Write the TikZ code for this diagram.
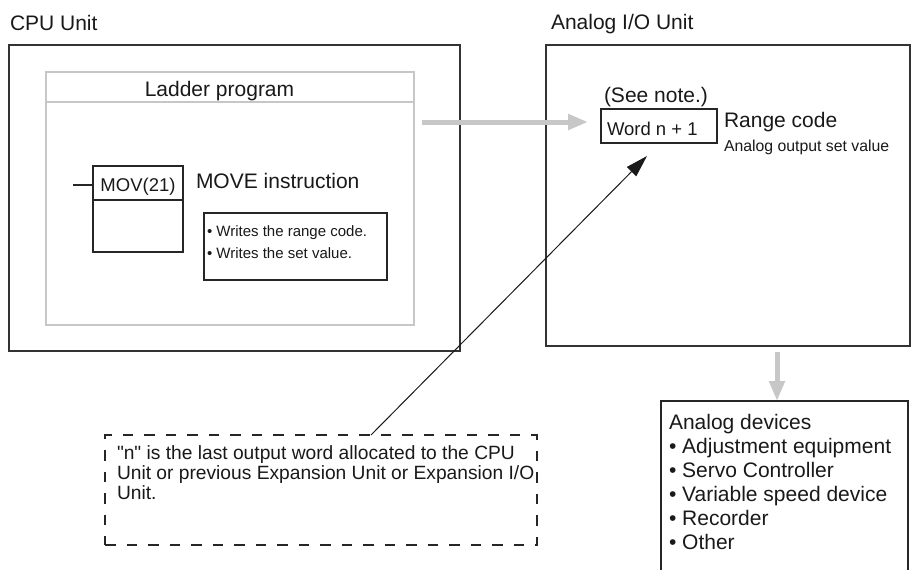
\documentclass[tikz,border=0pt]{standalone}
\usepackage{fontspec}
\setmainfont{Liberation Sans}[Ligatures=TeXOff]
\usetikzlibrary{arrows.meta}

\begin{document}
\begin{tikzpicture}[x=1pt, y=-1pt,
    every node/.style={inner sep=0pt, outer sep=0pt, text=black!90},
    unitat/.style={draw=black!80, line width=1.3pt, anchor=north west},
    marc/.style={draw=black!22, line width=2.6pt},
    caixa/.style={draw=black!85, line width=1.1pt, anchor=north west},
    gran/.style={anchor=base west, font=\fontsize{21}{24}\selectfont},
    mitja/.style={anchor=base west, font=\fontsize{18.5}{21}\selectfont},
    petit/.style={anchor=base west, font=\fontsize{15}{18}\selectfont},
    fletxa/.style={draw=black!22, line width=5pt,
        -{Triangle[length=20pt, width=15pt]}},
    nota/.style={draw=black!85, line width=2.2pt,
        dash pattern=on 10.5pt off 11pt, anchor=north west}
    ]
    \useasboundingbox (0,0) rectangle (913,570);

    % CPU Unit
    \node[gran] (cpulbl) at (10,30) {CPU Unit};
    \node[unitat, minimum width=451pt, minimum height=306pt] (cpu) at (9,45) {};
    \node[marc, anchor=north west, minimum width=368pt, minimum height=253pt] (ladder) at (46,72) {};
    \draw[marc] ([yshift=-30pt]ladder.north west) -- ([yshift=-30pt]ladder.north east);
    \node[gran, anchor=base] (ladderlbl) at (219.5,96) {Ladder program};

    \node[caixa, minimum width=90pt, minimum height=86pt] (mov) at (93,166) {};
    \draw[black!85, line width=1.1pt] ([yshift=-34pt]mov.north west) -- ([yshift=-34pt]mov.north east);
    \draw[black!85, line width=1.1pt] ([yshift=-19pt]mov.north west) -- ++(-20,0);
    \node[mitja, anchor=base] (movlbl) at (138,191) {MOV(21)};
    \node[gran] (movelbl) at (196,188) {MOVE instruction};
    \node[caixa, minimum width=183pt, minimum height=67pt] (escriu) at (204,213) {};
    \node[petit] (escriu1) at (207,236) {• Writes the range code.};
    \node[petit] (escriu2) at (207,258) {• Writes the set value.};

    % Analog I/O Unit
    \node[gran] (aiolbl) at (551,29) {Analog I/O Unit};
    \node[unitat, minimum width=364pt, minimum height=301pt] (aio) at (546,45) {};
    \node[gran] (seenote) at (604,102) {(See note.)};
    \node[caixa, minimum width=116pt, minimum height=34pt] (word) at (601,109) {};
    \node[mitja] (wordlbl) at (607,135) {Word n + 1};
    \node[gran] (rangelbl) at (724,127) {Range code};
    \node[petit, font=\fontsize{15.8}{18}\selectfont] (setlbl) at (724,151) {Analog output set value};

    % Analog devices
    \node[caixa, minimum width=247pt, minimum height=200pt] (devs) at (661,401) {};
    \node[gran] (devslbl) at (669,429) {Analog devices};
    \foreach \t [count=\i] in {Adjustment equipment, Servo Controller,
        Variable speed device, Recorder, Other}
        \node[gran] (dev\i) at (669,429+24*\i) {• \t};

    % note
    \node[nota, minimum width=432pt, minimum height=110pt] (nota) at (105,435) {};
    \node[mitja, font=\fontsize{19.2}{21}\selectfont] (nota1) at (117,459) {"n" is the last output word allocated to the CPU};
    \node[mitja, font=\fontsize{19.2}{21}\selectfont] (nota2) at (117,479) {Unit or previous Expansion Unit or Expansion I/O};
    \node[mitja, font=\fontsize{19.2}{21}\selectfont] (nota3) at (117,499) {Unit.};

    % arrows
    \coordinate (sortida) at (422,122);
    \coordinate (entrada) at (588,122);
    \coordinate (baixa) at (777,352);
    \coordinate (punta) at (647,156);
    \draw[fletxa] (sortida) -- (entrada);
    \draw[fletxa] (baixa) -- (devs.north -| baixa);
    \draw[black!90, line width=1pt, -{Triangle[length=22pt, width=13pt]}]
        ([xshift=50pt]nota.north) -- (punta);
\end{tikzpicture}
\end{document}
